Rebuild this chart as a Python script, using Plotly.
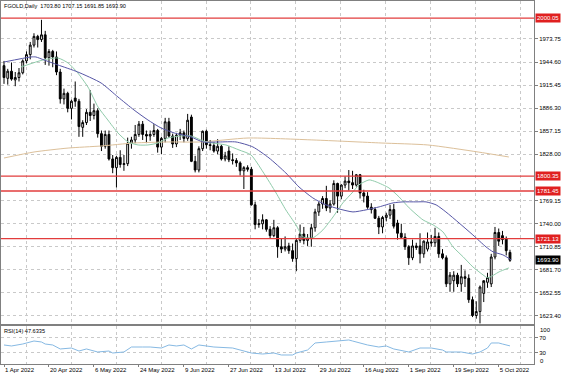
import pandas as pd
import plotly.graph_objects as go
from plotly.subplots import make_subplots

# ---------------- data ----------------
dates = [d for d in pd.bdate_range("2022-04-01", "2022-10-10") if d != pd.Timestamp("2022-04-15")]

opens = [1940, 1924, 1933, 1922, 1925, 1931, 1946, 1954, 1966, 1977, 1973, 1979, 1950, 1958, 1951, 1932,
         1898, 1905, 1886, 1899, 1895, 1862, 1868, 1881, 1877, 1883, 1854, 1838, 1853, 1822, 1811, 1824,
         1815, 1816, 1842, 1846, 1853, 1866, 1853, 1851, 1853, 1858, 1837, 1848, 1869, 1851, 1841, 1852,
         1855, 1848, 1875, 1819, 1808, 1835, 1857, 1840, 1839, 1832, 1838, 1822, 1832, 1821, 1820, 1817,
         1807, 1811, 1809, 1764, 1739, 1740, 1745, 1733, 1725, 1735, 1711, 1708, 1712, 1706, 1696, 1719,
         1727, 1719, 1722, 1735, 1755, 1765, 1772, 1760, 1765, 1791, 1775, 1789, 1794, 1792, 1789, 1802,
         1779, 1775, 1761, 1758, 1747, 1736, 1748, 1751, 1758, 1741, 1728, 1723, 1711, 1697, 1712, 1712,
         1702, 1708, 1717, 1716, 1724, 1702, 1697, 1664, 1668, 1675, 1664, 1673, 1671, 1644, 1624, 1629,
         1652, 1666, 1664, 1698, 1729, 1725, 1721, 1703.80]
highs = [1946, 1936, 1944, 1932, 1937, 1948, 1958, 1970, 1981, 1979, 1998, 1984, 1961, 1960, 1958, 1936,
         1911, 1907, 1897, 1920, 1898, 1871, 1885, 1909, 1892, 1886, 1858, 1858, 1858, 1827, 1826, 1833,
         1827, 1849, 1850, 1865, 1870, 1870, 1858, 1858, 1866, 1860, 1850, 1874, 1874, 1854, 1855, 1860,
         1858, 1879, 1878, 1826, 1838, 1858, 1859, 1846, 1843, 1847, 1840, 1831, 1838, 1829, 1823, 1819,
         1813, 1814, 1812, 1768, 1746, 1752, 1746, 1737, 1745, 1737, 1721, 1724, 1716, 1715, 1722, 1739,
         1736, 1727, 1740, 1759, 1768, 1775, 1788, 1770, 1795, 1792, 1790, 1800, 1808, 1807, 1803, 1803,
         1783, 1780, 1766, 1761, 1750, 1750, 1754, 1764, 1765, 1745, 1740, 1728, 1713, 1720, 1716, 1728,
         1719, 1729, 1726, 1735, 1729, 1708, 1700, 1679, 1680, 1678, 1688, 1681, 1676, 1648, 1642, 1662,
         1665, 1678, 1702, 1736, 1734, 1731, 1724, 1707.15]
lows = [1917, 1916, 1921, 1914, 1920, 1929, 1943, 1948, 1963, 1963, 1970, 1941, 1940, 1938, 1928, 1892,
        1891, 1881, 1872, 1888, 1850, 1850, 1865, 1870, 1872, 1849, 1832, 1835, 1820, 1804, 1786, 1811,
        1807, 1813, 1835, 1842, 1850, 1846, 1842, 1845, 1850, 1830, 1828, 1843, 1849, 1836, 1837, 1846,
        1843, 1845, 1818, 1805, 1805, 1832, 1835, 1833, 1830, 1828, 1820, 1819, 1818, 1815, 1812, 1801,
        1784, 1806, 1763, 1733, 1735, 1733, 1730, 1722, 1723, 1697, 1703, 1705, 1702, 1692, 1680, 1716,
        1714, 1712, 1711, 1730, 1750, 1759, 1756, 1754, 1763, 1754, 1771, 1785, 1782, 1784, 1787, 1772,
        1767, 1759, 1753, 1746, 1727, 1728, 1743, 1746, 1734, 1720, 1721, 1707, 1688, 1694, 1707, 1690,
        1697, 1705, 1711, 1711, 1697, 1695, 1660, 1654, 1654, 1660, 1654, 1660, 1640, 1622, 1620, 1614,
        1641, 1659, 1660, 1695, 1712, 1714, 1700, 1691.85]
closes = [1925, 1933, 1923, 1925, 1931, 1946, 1954, 1966, 1977, 1973, 1979, 1950, 1958, 1951, 1932, 1898,
          1905, 1886, 1895, 1895, 1863, 1868, 1881, 1877, 1883, 1854, 1838, 1853, 1822, 1811, 1824, 1815,
          1816, 1842, 1846, 1853, 1866, 1853, 1851, 1853, 1858, 1837, 1848, 1869, 1851, 1841, 1852, 1855,
          1848, 1871, 1819, 1808, 1835, 1857, 1840, 1839, 1832, 1838, 1822, 1826, 1821, 1820, 1817, 1807,
          1811, 1809, 1764, 1739, 1740, 1745, 1733, 1725, 1735, 1711, 1708, 1711, 1706, 1696, 1719, 1727,
          1719, 1722, 1735, 1755, 1765, 1772, 1760, 1765, 1791, 1775, 1789, 1794, 1792, 1789, 1802, 1779,
          1775, 1761, 1758, 1747, 1736, 1748, 1751, 1758, 1737, 1728, 1723, 1711, 1697, 1712, 1710, 1702,
          1718, 1717, 1716, 1724, 1702, 1697, 1664, 1675, 1675, 1664, 1673, 1671, 1644, 1624, 1629, 1660,
          1668, 1672, 1698, 1729, 1718, 1720, 1706, 1693.90]

# moving averages (bar index, price)
ma_fast_idx = [4.5, 10.4, 14.4, 17.1, 19.7, 22.4, 25.1, 27.7, 30.4, 33.1, 35.8, 38.4, 41.1, 43.8, 47.2,
               49.9, 53.9, 59.2, 62.7, 65.9, 69.1, 72.6, 75.2, 77.9, 79.8, 82.4, 85.1, 87.8, 90.4, 93.1,
               94.7, 97.4, 99.3, 102.7, 105.4, 108.1, 111.8, 114.5, 117.1, 119.8, 122.5, 125.1, 127.8,
               129.1, 132.1, 134.7]
ma_fast_val = [1938.3, 1947.2, 1949.7, 1943.4, 1930.7, 1913.0, 1887.7, 1871.3, 1854.9, 1843.5, 1839.7,
               1839.7, 1842.2, 1848.6, 1851.1, 1851.1, 1843.5, 1839.7, 1833.4, 1827.1, 1805.6, 1779.0,
               1757.5, 1738.6, 1723.4, 1722.2, 1732.3, 1748.7, 1766.4, 1780.3, 1789.2, 1795.5, 1793.0,
               1785.4, 1774.0, 1760.1, 1744.9, 1738.6, 1729.8, 1710.8, 1698.2, 1685.5, 1675.4, 1671.6,
               1679.2, 1684.2]
ma_mid_idx = [0, 7.2, 8.5, 10.7, 14.4, 19.7, 25.9, 30.4, 34.7, 38.4, 41.9, 45.4, 49.9, 53.1, 57.4, 61.9,
              66.4, 70.7, 75.2, 78.7, 82.4, 85.9, 89.4, 93.1, 96.6, 100.1, 103.8, 106.5, 109.9, 112.6,
              115.3, 117.9, 121.4, 125.1, 128.6, 130.5, 133.1, 135.3]
ma_mid_val = [1944.6, 1951.0, 1951.0, 1947.2, 1940.9, 1932.0, 1918.1, 1900.4, 1883.9, 1871.3, 1861.2,
              1854.9, 1849.8, 1843.5, 1843.5, 1843.5, 1837.2, 1823.3, 1804.3, 1786.6, 1772.7, 1763.9,
              1758.8, 1755.0, 1757.6, 1761.4, 1766.4, 1767.7, 1767.7, 1767.7, 1763.9, 1755.0, 1741.1,
              1725.9, 1710.8, 1704.5, 1700.7, 1694.4]
ma_slow_idx = [0, 8.0, 17.1, 25.9, 34.7, 43.8, 52.6, 65.1, 82.7, 100.6, 113.1, 126.5, 134.7]
ma_slow_val = [1823.2, 1830.8, 1835.8, 1838.4, 1842.2, 1843.5, 1843.5, 1848.5, 1846.0, 1842.2, 1839.7,
               1830.8, 1824.5]

rsi_idx = [0, 2, 5, 8, 10, 11, 13, 15, 18, 20, 22, 25, 28, 29, 32, 34, 37, 39, 42, 44, 46, 48, 50, 52,
           56, 61, 66, 69, 72, 74, 77, 78, 81, 83, 86, 89, 92, 93, 97, 100, 102, 104, 108, 111, 114,
           117, 118, 122, 125, 127, 129, 130, 132, 133, 135]
rsi_val = [50, 47.4, 52.6, 60.5, 57.9, 52.6, 50, 39.5, 42.1, 34.2, 39.5, 31.6, 34.2, 28.9, 31.6, 44.7,
           44.7, 44.7, 42.1, 50, 47.4, 50, 39.5, 50, 44.7, 42.1, 28.9, 26.3, 28.9, 23.7, 23.7, 28.9, 36.8,
           55.3, 57.9, 60.5, 63.2, 60.5, 50, 44.7, 47.4, 39.5, 31.6, 42.1, 42.1, 36.8, 31.6, 31.6, 26.3,
           31.6, 42.1, 55.3, 55.3, 52.6, 47.6335]

level_red = [2000.05, 1800.35, 1781.45, 1721.13]
last_price = 1693.90

price_ticks = [1623.40, 1652.55, 1681.70, 1710.85, 1740.00, 1769.15, 1828.00, 1857.15, 1886.30,
               1915.45, 1944.60, 1973.75]
date_label_days = ["2022-04-01", "2022-04-20", "2022-05-06", "2022-05-24", "2022-06-09", "2022-06-27",
                   "2022-07-13", "2022-07-29", "2022-08-16", "2022-09-01", "2022-09-19", "2022-10-05"]
date_labels = ["1 Apr 2022", "20 Apr 2022", "6 May 2022", "24 May 2022", "9 Jun 2022", "27 Jun 2022",
               "13 Jul 2022", "29 Jul 2022", "16 Aug 2022", "1 Sep 2022", "19 Sep 2022", "5 Oct 2022"]
title_text = "FGOLD,Daily  1703.80 1707.15 1691.85 1693.90"
rsi_text = "RSI(14) 47.6335"

# ---------------- figure ----------------
x = list(range(len(dates)))
tickpos = [dates.index(pd.Timestamp(d)) for d in date_label_days]
gridpos = [p + 5.9 for p in tickpos]

FONT = "Liberation Sans, Arial, sans-serif"
GRID = "#c9c9c9"

fig = make_subplots(rows=2, cols=1, shared_xaxes=True)

fig.add_trace(go.Candlestick(
    x=x, open=opens, high=highs, low=lows, close=closes,
    increasing=dict(line=dict(color="black", width=1), fillcolor="white"),
    decreasing=dict(line=dict(color="black", width=1), fillcolor="black"),
    whiskerwidth=0, hoverinfo="skip", showlegend=False), row=1, col=1)

for ix, vals, col in [(ma_slow_idx, ma_slow_val, "#dcc09a"),
                      (ma_fast_idx, ma_fast_val, "#8fcbaa"),
                      (ma_mid_idx, ma_mid_val, "#5656a6")]:
    fig.add_trace(go.Scatter(x=ix, y=vals, mode="lines",
                             line=dict(color=col, width=1, shape="spline", smoothing=0.6),
                             hoverinfo="skip", showlegend=False), row=1, col=1)

fig.add_trace(go.Scatter(x=rsi_idx, y=rsi_val, mode="lines",
                         line=dict(color="#86b9e3", width=1),
                         hoverinfo="skip", showlegend=False), row=2, col=1)

xr = [-0.8, -0.8 + 533 / 3.748]
axis_common = dict(showline=True, mirror=True, linecolor="#808080", linewidth=1, zeroline=False,
                   automargin=False)

fig.update_layout(
    width=564, height=376,
    margin=dict(l=1, r=30, t=1, b=12),
    paper_bgcolor="white", plot_bgcolor="white",
    font=dict(family=FONT, size=6, color="black"),
    showlegend=False,
    xaxis=dict(domain=[0, 1], range=xr, showticklabels=False, showgrid=False,
               rangeslider=dict(visible=False), ticks="",
               minor=dict(tickmode="array", tickvals=gridpos, showgrid=True,
                          gridcolor=GRID, griddash="dot", gridwidth=1, ticks=""),
               **axis_common),
    xaxis2=dict(domain=[0, 1], range=xr, matches="x", tickmode="array", tickvals=tickpos,
                ticktext=date_labels, ticklabelposition="outside right", ticks="outside",
                ticklen=2, tickcolor="#808080", showgrid=False,
                tickfont=dict(size=6, family=FONT),
                minor=dict(tickmode="array", tickvals=gridpos, showgrid=True,
                           gridcolor=GRID, griddash="dot", gridwidth=1, ticks=""),
                rangeslider=dict(visible=False), **axis_common),
    yaxis=dict(domain=[0.1102, 1], range=[1613.25, 2021.8], side="right",
               tickmode="array", tickvals=price_ticks,
               ticktext=["%.2f" % v for v in price_ticks], ticks="outside", ticklen=3,
               tickcolor="#808080", showgrid=True, gridcolor=GRID, griddash="dot",
               tickfont=dict(size=6, family=FONT), **axis_common),
    yaxis2=dict(domain=[0, 0.1047], range=[0, 100], side="right",
                tickmode="array", tickvals=[30, 70], ticktext=["30", "70"],
                ticks="outside", ticklen=3, tickcolor="#808080",
                showgrid=True, gridcolor=GRID, griddash="dot",
                tickfont=dict(size=6, family=FONT), **axis_common),
)

# horizontal red levels
for lv in level_red:
    fig.add_shape(type="line", xref="x domain", yref="y", x0=0, x1=1, y0=lv, y1=lv,
                  line=dict(color="#e23c3c", width=1.3), layer="above")

# price tags on the right axis
for lv in level_red:
    fig.add_annotation(xref="x domain", yref="y", x=1, y=lv, xanchor="left", yanchor="middle",
                       xshift=1, text="%.2f" % lv, showarrow=False,
                       font=dict(color="white", size=6, family=FONT),
                       bgcolor="#e02020", borderpad=1)
fig.add_annotation(xref="x domain", yref="y", x=1, y=last_price, xanchor="left", yanchor="middle",
                   xshift=1, text="%.2f" % last_price, showarrow=False,
                   font=dict(color="white", size=6, family=FONT), bgcolor="black", borderpad=1)

# RSI 100 / 0 labels (drawn inside the panel edges like the terminal)
fig.add_annotation(xref="x domain", yref="y2 domain", x=1, y=0.9, xanchor="left", yanchor="middle",
                   xshift=4, text="100", showarrow=False, font=dict(size=6, family=FONT))
fig.add_annotation(xref="x domain", yref="y2 domain", x=1, y=0.08, xanchor="left", yanchor="middle",
                   xshift=4, text="0", showarrow=False, font=dict(size=6, family=FONT))

# title and indicator caption
fig.add_annotation(xref="x domain", yref="y domain", x=0, y=0.985, xanchor="left", yanchor="middle",
                   xshift=1, text=title_text, showarrow=False, font=dict(size=5.6, family=FONT))
fig.add_annotation(xref="x domain", yref="y2 domain", x=0, y=0.86, xanchor="left", yanchor="middle",
                   xshift=1, text=rsi_text, showarrow=False, font=dict(size=5.6, family=FONT))

fig.write_html("out.html",
               config={"displayModeBar": False},
               post_script="document.body.style.margin='0';document.body.style.padding='0';"
                           "document.documentElement.style.overflow='hidden';")
